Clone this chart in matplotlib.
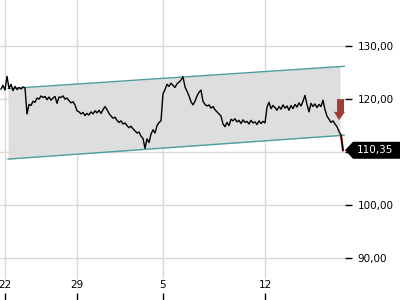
import matplotlib
matplotlib.use("Agg")
import matplotlib.pyplot as plt
from matplotlib.patches import Polygon
from matplotlib.transforms import IdentityTransform

# price series, one point per bar
prices = [
    121.9, 122.6, 121.7, 124.3, 122.0, 122.8, 121.6, 122.4, 121.8, 122.2,
    121.9, 122.3, 122.1, 117.2, 119.0, 118.8, 119.6, 119.4, 120.2, 120.0,
    120.6, 120.3, 120.5, 119.9, 120.4, 119.8, 120.2, 120.5, 119.2, 120.4,
    120.3, 120.6, 120.0, 120.2, 119.7, 119.3, 119.5, 118.9, 117.8, 117.6,
    117.2, 117.5, 116.9, 117.3, 117.0, 117.6, 117.2, 117.8, 117.4, 117.9,
    117.3, 118.0, 118.6, 118.0, 117.3, 116.8, 116.4, 116.6, 116.0, 115.6,
    115.9, 115.3, 115.5, 115.0, 114.6, 114.9, 114.4, 114.0, 113.6, 113.8,
    113.0, 112.6, 110.7, 112.5, 111.8, 113.4, 114.2, 113.6, 115.0, 115.6,
    115.9, 121.0, 121.8, 122.8, 122.4, 123.0, 122.6, 122.2, 122.9, 123.2,
    123.6, 124.2, 122.3, 121.5, 120.6, 119.5, 118.9, 119.6, 120.6, 121.3,
    121.7, 119.6, 119.0, 118.7, 118.9, 118.3, 118.6, 118.0, 117.6, 117.2,
    116.8, 115.3, 114.8, 115.6, 115.0, 116.2, 115.9, 116.3, 115.7, 116.0,
    115.4, 116.1, 115.6, 115.8, 115.3, 116.0, 115.5, 115.7, 115.2, 115.9,
    115.4, 115.8, 115.5, 118.5, 119.4, 118.2, 118.8, 118.4, 117.9, 118.6,
    118.1, 118.9, 118.3, 118.7, 117.9, 118.8, 118.2, 119.0, 118.5, 119.3,
    118.7, 119.6, 120.7, 119.0, 117.6, 119.2, 118.6, 119.1, 118.4, 119.0,
    118.6, 119.8, 118.0, 116.8, 116.2, 115.6, 115.9, 115.3, 114.8, 113.9,
    113.2, 110.35,
]
last_price = 110.35

# trend channel end points (bar index, price)
channel_x = [3.5, 172.0]
channel_top = [121.98, 126.2]
channel_bottom = [108.68, 113.2]
fill_x_end = 169.5

tick_pos = [2, 38, 81, 132]
tick_labels = ["22", "29", "5", "12"]
y_ticks = [90, 100, 110, 120, 130]

fig = plt.figure(figsize=(4, 3), dpi=100)
ax = fig.add_axes([0, 0, 345 / 400, 1])
ax.set_xlim(-0.5, 172)
ax.set_ylim(82.1, 138.7)

for s in ax.spines.values():
    s.set_visible(False)

# grid
ax.set_yticks(y_ticks)
ax.set_yticklabels([f"{v:.2f}".replace(".", ",") for v in y_ticks])
ax.grid(axis="y", color="#d9d9d9", linewidth=1)
for t in tick_pos:
    ax.axvline(t, ymin=22 / 300, ymax=1, color="#d9d9d9", linewidth=1, zorder=0.5)
ax.set_axisbelow(True)

# channel
def line_at(xs, ys, x):
    return ys[0] + (ys[1] - ys[0]) * (x - xs[0]) / (xs[1] - xs[0])

fx = [channel_x[0], fill_x_end]
ax.fill_between(fx, [channel_top[0], line_at(channel_x, channel_top, fill_x_end)],
                [channel_bottom[0], line_at(channel_x, channel_bottom, fill_x_end)],
                color="#dedede", linewidth=0, zorder=1)
ax.plot(channel_x, channel_top, color="#4f9c9c", linewidth=1, zorder=2)
ax.plot([channel_x[0], 171.5], [channel_bottom[0], line_at(channel_x, channel_bottom, 171.5)],
        color="#4f9c9c", linewidth=1, zorder=2)

# price line
xs = list(range(len(prices)))
ax.plot(xs, prices, color="black", linewidth=1, zorder=3)
ax.plot(xs[-2:], prices[-2:], color="#c0392b", linewidth=1.6, zorder=2.9)

# down arrow
arrow = Polygon([(168, 120), (171.5, 120), (171.5, 117.6), (172, 117.6),
                 (169, 116.0), (166.5, 117.6), (168, 117.6)],
                closed=True, facecolor="#a23d36", edgecolor="none", zorder=4)
ax.add_patch(arrow)

# axis ticks
ax.yaxis.tick_right()
ax.tick_params(axis="y", length=5, width=1, color="black", pad=4,
               labelsize=7.5, labelcolor="black")
ax.set_xticks(tick_pos)
ax.set_xticklabels(tick_labels)
ax.tick_params(axis="x", direction="in", length=5, width=1, color="black",
               pad=-14.4, labelsize=7.5)

# last price tag
fig.canvas.draw()
px, py = ax.transData.transform((172, last_price))
tag = Polygon([(px, py), (px + 8, py + 8.5), (400, py + 8.5), (400, py - 8.5),
               (px + 8, py - 8.5)], closed=True, facecolor="black",
              edgecolor="none", transform=IdentityTransform(), clip_on=False)
fig.patches.append(tag)
fig.text((px + 12) / 400, py / 300, f"{last_price:.2f}".replace(".", ","),
         color="white", fontsize=7.5, va="center", ha="left")

fig.savefig("out.png", dpi=100)
